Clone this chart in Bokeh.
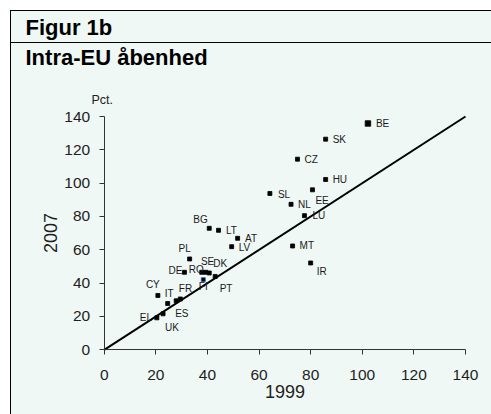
from bokeh.plotting import figure
from bokeh.layouts import column
from bokeh.models import (ColumnDataSource, LabelSet, Label, FixedTicker, Range1d)
from bokeh.core.properties import value
from bokeh.embed import file_html
from bokeh.resources import INLINE

# ---- data (openness, pct.) ----
countries = ["BE", "SK", "CZ", "HU", "SL", "EE", "NL", "LU", "MT", "IR",
             "BG", "LT", "AT", "LV", "PL", "DE", "RO", "SE", "DK", "FI",
             "PT", "CY", "IT", "FR", "ES", "EL", "UK"]
val_1999 = [102.2, 85.8, 74.9, 85.8, 64.2, 80.7, 72.4, 77.6, 73.0, 80.0,
            40.7, 44.3, 51.7, 49.4, 33.1, 31.1, 37.8, 39.4, 40.7, 38.4,
            43.0, 20.8, 24.6, 29.5, 27.9, 20.4, 22.8]
val_2007 = [135.8, 126.4, 114.4, 102.2, 93.8, 96.0, 87.3, 80.5, 62.3, 52.1,
            72.9, 71.7, 66.9, 61.9, 54.5, 46.5, 46.5, 46.5, 46.1, 42.1,
            44.0, 32.6, 27.8, 30.5, 29.4, 19.2, 21.6]
ticks = [0, 20, 40, 60, 80, 100, 120, 140]
axis_bounds = [0, 140]          # 45-degree line runs over the full axis range
fig_label = "Figur 1b"
title = "Intra-EU åbenhed"
unit = "Pct."
x_title = "1999"
y_title = "2007"

# ---- label placement (pixel offsets, style only) ----
label_offsets = {
    "BE": (8, 0), "SK": (7, 0), "CZ": (7, 0), "HU": (7, 0), "SL": (8, -1),
    "EE": (3, -11), "NL": (7, 0), "LU": (8, 0), "MT": (7, 0), "IR": (6, -9),
    "BG": (-16, 9), "LT": (7.5, 0), "AT": (7.5, 0), "LV": (7, -0.5),
    "PL": (-11, 10), "DE": (-16, 1.5), "RO": (-13, 3), "SE": (-5, 11),
    "DK": (4, 9), "FI": (-4.5, -7), "PT": (4.5, -12.5), "CY": (-12, 10.5),
    "IT": (-3, 9.5), "FR": (-1.5, 10), "ES": (-1, -12.5), "EL": (-17, 0),
    "UK": (2, -14),
}
big_marker = {"BE"}

MINT = "#EFF8F4"
FONT = "Liberation Sans"

# ---- layout geometry (canvas pixels) ----
W, H = 480, 403
PX_LEFT, PX_RIGHT = 92.7, 454.0     # pixel of x = 0 and x = 140
PY_TOP, PY_BOTTOM = 105.0, 338.3    # pixel of y = 140 and y = 0
lo, hi = axis_bounds
kx = (PX_RIGHT - PX_LEFT) / (hi - lo)
ky = (PY_BOTTOM - PY_TOP) / (hi - lo)
x_range = Range1d(lo - PX_LEFT / kx, lo + (W - PX_LEFT) / kx)
y_range = Range1d(lo - (H - PY_BOTTOM) / ky, lo + PY_BOTTOM / ky)

p = figure(width=W, height=H, x_range=x_range, y_range=y_range,
           output_backend="svg", toolbar_location=None, min_border=0)
p.background_fill_color = None
p.border_fill_color = None
p.outline_line_color = None
p.grid.visible = False

for ax in (p.xaxis[0], p.yaxis[0]):
    ax.fixed_location = lo
    ax.bounds = tuple(axis_bounds)
    ax.ticker = FixedTicker(ticks=ticks)
    ax.minor_tick_line_color = None
    ax.major_tick_in = 0
    ax.major_tick_out = 5
    ax.axis_line_color = "#333333"
    ax.major_tick_line_color = "#333333"
    ax.major_label_text_font = FONT
    ax.major_label_text_font_size = "15.5px"
    ax.major_label_text_color = "#1e1e1e"
    ax.axis_label_text_font = FONT
    ax.axis_label_text_font_size = "18px"
    ax.axis_label_text_font_style = "normal"
    ax.axis_label_text_color = "#1e1e1e"
p.xaxis.axis_label = x_title
p.yaxis.axis_label = y_title
p.xaxis.major_label_standoff = 15
p.xaxis.axis_label_standoff = 2
p.yaxis.major_label_standoff = 9
p.yaxis.axis_label_standoff = 5

# 45-degree reference line
p.line(axis_bounds, axis_bounds, line_color="black", line_width=2)

src = ColumnDataSource(dict(
    x=val_1999, y=val_2007, code=countries,
    dx=[label_offsets[c][0] for c in countries],
    dy=[label_offsets[c][1] for c in countries],
    size=[5.5 if c in big_marker else 4 for c in countries],
    lc=["#2a5db0" if c == "FI" else "black" for c in countries],
))
p.scatter("x", "y", source=src, marker="square", size="size",
          fill_color="black", line_color="lc", line_width=0.8)
p.add_layout(LabelSet(x="x", y="y", text="code", source=src,
                      x_offset="dx", y_offset="dy",
                      text_font=value(FONT), text_font_size="10px",
                      text_color="#1a1a1a", text_align="left",
                      text_baseline="middle"))

# titles (canvas units)
p.add_layout(Label(x=14, y=15.7, x_units="canvas", y_units="canvas",
                   text=fig_label, text_font=FONT, text_font_size="22px",
                   text_font_style="bold", text_color="black",
                   text_baseline="alphabetic", text_align="left"))
p.add_layout(Label(x=14, y=46.3, x_units="canvas", y_units="canvas",
                   text=title, text_font=FONT, text_font_size="22px",
                   text_font_style="bold", text_color="black",
                   text_baseline="alphabetic", text_align="left"))
p.add_layout(Label(x=80, y=88, x_units="canvas", y_units="canvas",
                   text=unit, text_font=FONT, text_font_size="12.5px",
                   text_color="#222222",
                   text_baseline="alphabetic", text_align="left"))

layout = column(p, spacing=0, styles={
    "margin-left": "10px", "margin-top": "10px",
    "border-left": "1px solid black", "border-top": "1.3px solid black",
    "background-color": MINT,
    "background-image": "linear-gradient(black, black)",
    "background-repeat": "no-repeat",
    "background-position": "0 31px",
    "background-size": "100% 1.3px",
})

open("out.html", "w").write(file_html(layout, INLINE))
